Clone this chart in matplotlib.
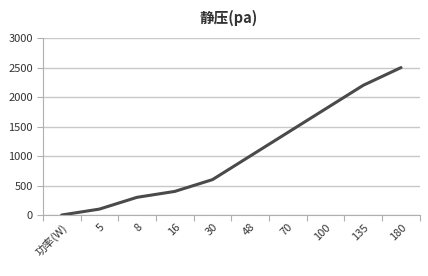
import matplotlib
matplotlib.use("Agg")
import matplotlib.pyplot as plt
import numpy as np

plt.rcParams['font.family'] = ['Noto Sans CJK SC', 'DejaVu Sans']

# data
categories = ['功率(W)', '5', '8', '16', '30', '48', '70', '100', '135', '180']
pressure = [0, 100, 300, 400, 600, 1000, 1400, 1800, 2200, 2500]
y_ticks = [0, 500, 1000, 1500, 2000, 2500, 3000]

fig = plt.figure(figsize=(4.28, 2.76), dpi=100)
ax = fig.add_axes([0.100, 0.221, 0.881, 0.641])

x = np.arange(len(categories))
ax.plot(x, pressure, color='#4a4a4a', linewidth=2.2, solid_capstyle='round')

ax.set_xlim(-0.5, len(categories) - 0.5)
ax.set_ylim(0, 3000)
ax.set_yticks(y_ticks)
ax.set_yticklabels([str(v) for v in y_ticks], fontsize=8, color='#333333')
ax.yaxis.grid(True, color='#c8c8c8', linewidth=1)
ax.set_axisbelow(True)

# category ticks between columns, labels at centers
ax.set_xticks(np.arange(-0.5, len(categories)), minor=False)
ax.set_xticklabels([])
ax.set_xticks(x, minor=True)
ax.set_xticklabels(categories, minor=True, rotation=45, ha='right',
                   rotation_mode='anchor', fontsize=8, color='#333333')
ax.tick_params(axis='x', which='minor', length=0, pad=5)
ax.tick_params(axis='x', which='major', length=4, color='#b0b0b0')
ax.tick_params(axis='y', length=4, color='#b0b0b0', pad=3)

for s in ['top', 'right']:
    ax.spines[s].set_visible(False)
ax.spines['left'].set_color('#b0b0b0')
ax.spines['bottom'].set_color('#b0b0b0')

fig.text(0.535, 0.935, '静压(pa)', ha='center', va='center', fontsize=10.5,
         fontweight='bold', color='#333333')

fig.savefig('out.png', dpi=100)
